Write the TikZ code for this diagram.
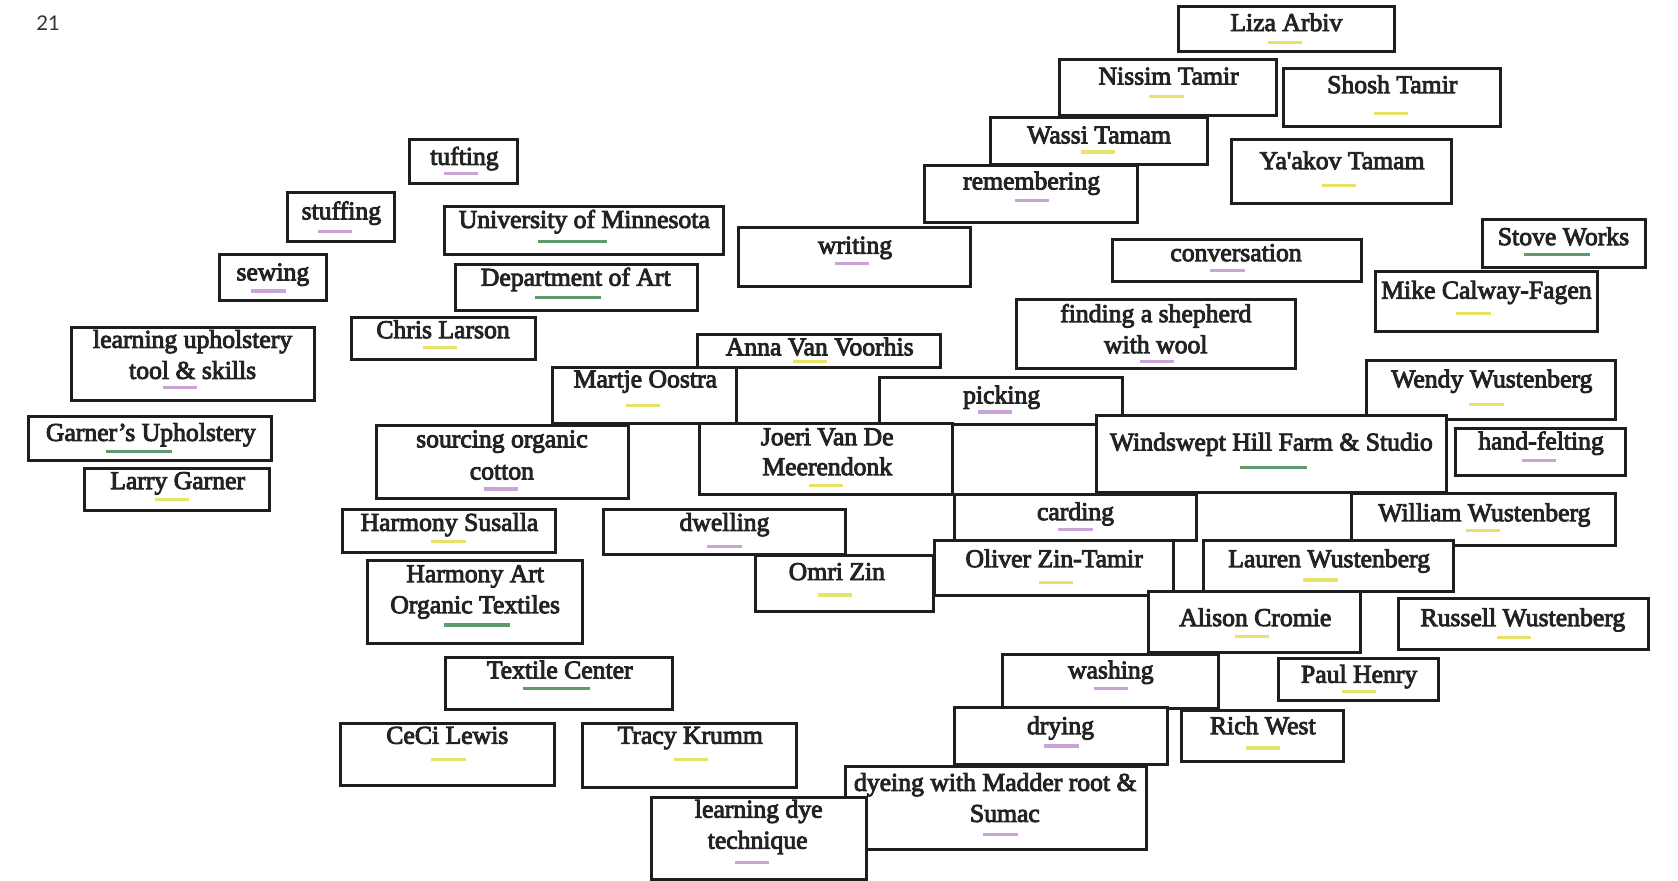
\documentclass[tikz,border=0pt]{standalone}
\usepackage{fontspec}
\setmainfont{Liberation Serif}
\newfontfamily\cardfont{Liberation Serif}[FakeBold=3.5]
\newfontfamily\numfont{Lato}
\usetikzlibrary{fit}
\definecolor{yelc}{RGB}{232,226,104}
\definecolor{purc}{RGB}{201,162,214}
\definecolor{grnc}{RGB}{94,154,108}
\definecolor{inkc}{RGB}{30,30,30}
\definecolor{txtc}{RGB}{35,35,35}
\tikzset{
  card/.style={draw=inkc, fill=white, line width=2.8pt, inner sep=0pt},
  lbl/.style={inner sep=0pt, anchor=base, text=txtc, font=\cardfont\fontsize{24}{28}\selectfont},
  uline/.style={line width=3pt},
  yel/.style={draw=yelc},
  pur/.style={draw=purc},
  grn/.style={draw=grnc},
  pagenum/.style={inner sep=0pt, text=black!80, font=\numfont\fontsize{19}{21}\selectfont}
}
% #1 name, #2 x1, #3 y1, #4 x2, #5 y2, #6 underline x, #7 underline y, #8 colour style, #9 half length
\newcommand\card[9]{%
  \node[card, fit={(#2,#3) (#4,#5)}] (#1) {};
  \draw[uline, #8] ({#6-#9},#7) -- ({#6+#9},#7);
}
\newcommand\lab[4]{\node[lbl] (#1) at (#2,{#3+7}) {#4};}
\begin{document}
\begin{tikzpicture}[x=1pt,y=-1pt]
\useasboundingbox[fill=white] (0,0) rectangle (1568,823);
\node[pagenum] (pg) at (45,22) {21};

\card{liza}{1101}{6}{1303}{48}{1201}{40}{yel}{16}
\lab{lizat}{1202}{22}{Liza Arbiv}
\card{nissim}{990}{56}{1193}{108}{1090}{90}{yel}{16}
\lab{nissimt}{1092}{72}{Nissim Tamir}
\card{shosh}{1199}{64}{1402}{118}{1300}{106}{yel}{16}
\lab{shosht}{1301}{80}{Shosh Tamir}
\card{wassi}{926}{110}{1128}{154}{1026}{142}{yel}{16}
\lab{wassit}{1027}{127}{Wassi Tamam}
\card{yaakov}{1151}{130}{1356}{190}{1251}{173}{yel}{16}
\lab{yaakovt}{1254}{151}{Ya'akov Tamam}
\card{remem}{864}{155}{1063}{208}{964}{187}{pur}{16}
\lab{rememt}{964}{170}{remembering}
\card{tufting}{383}{130}{484}{171}{431}{162}{pur}{16}
\lab{tuftingt}{434}{147}{tufting}
\card{stuffing}{269}{180}{369}{226}{313}{216}{pur}{16}
\lab{stuffingt}{319}{198}{stuffing}
\card{umn}{415}{193}{676}{238}{535}{226}{grn}{32}
\lab{umnt}{546}{206}{University of Minnesota}
\card{writing}{690}{213}{907}{268}{796}{246}{pur}{16}
\lab{writingt}{799}{230}{writing}
\card{conv}{1040}{224}{1272}{263}{1147}{253}{pur}{16}
\lab{convt}{1155}{237}{conversation}
\card{stove}{1385}{205}{1538}{250}{1455}{238}{grn}{31}
\lab{stovet}{1461}{222}{Stove Works}
\card{sewing}{205}{238}{305}{281}{251}{272}{pur}{16}
\lab{sewingt}{255}{255}{sewing}
\card{dept}{426}{247}{652}{290}{531}{278}{grn}{31}
\lab{deptt}{538}{260}{Department of Art}
\card{mike}{1285}{254}{1493}{310}{1377}{293}{yel}{16}
\lab{miket}{1389}{272}{Mike Calway-Fagen}
\card{shep}{950}{280}{1211}{344}{1081}{338}{pur}{16}
\lab{shepa}{1080}{294}{finding a shepherd}
\lab{shepb}{1080}{323}{with wool}
\card{uphol}{67}{306}{294}{374}{168}{362}{pur}{16}
\lab{uphola}{180}{318}{learning upholstery}
\lab{upholb}{180}{347}{tool \& skills}
\card{chris}{328}{297}{500}{336}{411}{325}{yel}{16}
\lab{christ}{414}{309}{Chris Larson}
\card{anna}{652}{313}{879}{343}{757}{338}{yel}{16}
\lab{annat}{766}{325}{Anna Van Voorhis}
\card{martje}{516}{343}{688}{396}{601}{379}{yel}{16}
\lab{martjet}{603}{355}{Martje Oostra}
\card{picking}{822}{353}{1049}{397}{930}{385}{pur}{16}
\lab{pickingt}{936}{370}{picking}
\card{wendy}{1277}{337}{1510}{392}{1389}{378}{yel}{16}
\lab{wendyt}{1394}{355}{Wendy Wustenberg}
\card{garners}{27}{389}{254}{430}{130}{422}{grn}{31}
\lab{garnerst}{141}{405}{Garner’s Upholstery}
\card{larry}{79}{438}{252}{477}{161}{467}{yel}{16}
\lab{larryt}{166}{450}{Larry Garner}
\card{sourcing}{352}{398}{587}{466}{468}{457}{pur}{16}
\lab{sourcinga}{469}{411}{sourcing organic}
\lab{sourcingb}{469}{441}{cotton}
\card{joeri}{654}{396}{890}{462}{772}{454}{yel}{16}
\lab{joeria}{773}{409}{Joeri Van De}
\lab{joerib}{773}{437}{Meerendonk}
\card{wind}{1025}{388}{1352}{460}{1190}{437}{grn}{31}
\lab{windt}{1188}{414}{Windswept Hill Farm \& Studio}
\card{felting}{1360}{400}{1519}{444}{1438}{430}{pur}{16}
\lab{feltingt}{1440}{413}{hand-felting}
\card{susalla}{320}{476}{519}{516}{419}{506}{yel}{16}
\lab{susallat}{420}{489}{Harmony Susalla}
\card{dwelling}{564}{476}{790}{518}{677}{511}{pur}{16}
\lab{dwellingt}{677}{489}{dwelling}
\card{carding}{892}{462}{1118}{505}{1005}{495}{pur}{16}
\lab{cardingt}{1005}{479}{carding}
\card{william}{1263}{461}{1510}{510}{1386}{496}{yel}{16}
\lab{williamt}{1387}{480}{William Wustenberg}
\card{oliver}{873}{505}{1097}{556}{987}{544}{yel}{16}
\lab{olivert}{985}{523}{Oliver Zin-Tamir}
\card{lauren}{1125}{505}{1358}{553}{1234}{542}{yel}{16}
\lab{laurent}{1242}{523}{Lauren Wustenberg}
\card{harmart}{343}{524}{544}{601}{446}{584}{grn}{31}
\lab{harmarta}{444}{537}{Harmony Art}
\lab{harmartb}{444}{566}{Organic Textiles}
\card{omri}{706}{519}{872}{571}{780}{556}{yel}{16}
\lab{omrit}{782}{535}{Omri Zin}
\card{alison}{1073}{553}{1271}{610}{1170}{595}{yel}{16}
\lab{alisont}{1173}{578}{Alison Cromie}
\card{russell}{1307}{559}{1540}{607}{1415}{596}{yel}{16}
\lab{russellt}{1423}{578}{Russell Wustenberg}
\card{textile}{416}{614}{628}{663}{520}{643}{grn}{31}
\lab{textilet}{523}{627}{Textile Center}
\card{washing}{937}{612}{1139}{662}{1038}{643}{pur}{16}
\lab{washingt}{1038}{627}{washing}
\card{paul}{1195}{615}{1344}{655}{1270}{646}{yel}{16}
\lab{pault}{1270}{631}{Paul Henry}
\card{ceci}{318}{676}{518}{734}{419}{710}{yel}{16}
\lab{cecit}{418}{688}{CeCi Lewis}
\card{tracy}{544}{676}{744}{736}{646}{710}{yel}{16}
\lab{tracyt}{645}{688}{Tracy Krumm}
\card{drying}{892}{661}{1091}{714}{992}{697}{pur}{16}
\lab{dryingt}{991}{679}{drying}
\card{rich}{1104}{664}{1255}{712}{1180}{699}{yel}{16}
\lab{richt}{1180}{679}{Rich West}
\card{dyeing}{790}{716}{1071}{794}{935}{780}{pur}{16}
\lab{dyeinga}{930}{732}{dyeing with Madder root \&}
\lab{dyeingb}{939}{761}{Sumac}
\card{ldye}{609}{745}{810}{822}{703}{806}{pur}{16}
\lab{ldyea}{709}{757}{learning dye}
\lab{ldyeb}{708}{786}{technique}
\end{tikzpicture}
\end{document}
